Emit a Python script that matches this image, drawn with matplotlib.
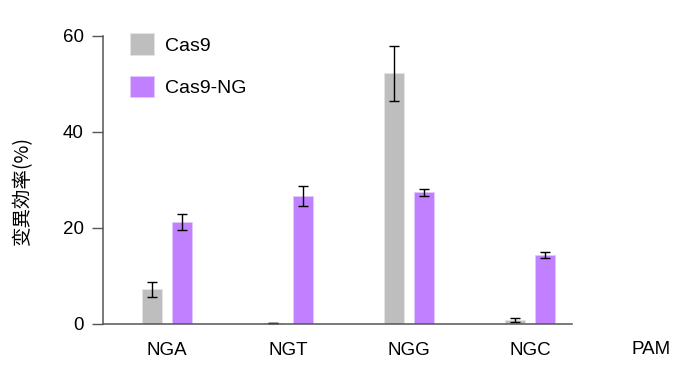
import matplotlib.pyplot as plt
import numpy as np

plt.rcParams['font.family'] = ['Liberation Sans', 'Noto Sans CJK JP', 'DejaVu Sans']

# data
groups = ['NGA', 'NGT', 'NGG', 'NGC']
cas9 = [7.2, 0.2, 52.2, 0.85]
cas9_err = [1.6, 0.0, 5.8, 0.45]
cas9_ng = [21.3, 26.7, 27.4, 14.4]
cas9_ng_err = [1.65, 2.1, 0.65, 0.7]

fig = plt.figure(figsize=(6.88, 3.74), dpi=100)
ax = fig.add_axes([103 / 688, 1 - 324 / 374, 469 / 688, 288 / 374])

x = np.arange(len(groups))
w = 0.165
off = 0.125
err_kw = dict(ecolor='black', capsize=3.5, elinewidth=1, capthick=1)

ax.bar(x - off, cas9, w, color='#bebebe', edgecolor='#e4e4e4', linewidth=0.6,
       label='Cas9')
ax.errorbar(x - off, cas9, yerr=cas9_err, fmt='none', **err_kw)
ax.bar(x + off, cas9_ng, w, color='#c080ff', edgecolor='#e2c8ff', linewidth=0.6,
       label='Cas9-NG')
ax.errorbar(x + off, cas9_ng, yerr=cas9_ng_err, fmt='none', **err_kw)

ax.set_xlim(-0.529, 3.347)
ax.set_ylim(0, 60)
ax.set_yticks([0, 20, 40, 60])
ax.set_xticks(x)
ax.set_xticklabels(groups)
ax.tick_params(axis='x', length=0, pad=13, labelsize=13.5)
ax.tick_params(axis='y', length=8, width=1, color='#555555', pad=6, labelsize=13.5)

for s in ['top', 'right']:
    ax.spines[s].set_visible(False)
for s in ['left', 'bottom']:
    ax.spines[s].set_color('#555555')
    ax.spines[s].set_linewidth(1.1)

ax.set_ylabel('变異効率(%)', fontsize=14, family=['Noto Sans CJK JP', 'DejaVu Sans'])
ax.yaxis.set_label_coords(-0.15, 0.465)

ax.text(4.0, -0.09, 'PAM', transform=ax.get_xaxis_transform(), ha='center', va='center',
        fontsize=13.5)

ax.legend(loc='upper left', bbox_to_anchor=(0.02, 1.07), frameon=False, fontsize=14,
          handlelength=1.25, handleheight=1.35, handletextpad=0.55, labelspacing=1.05)

fig.savefig('out.png', dpi=100)
